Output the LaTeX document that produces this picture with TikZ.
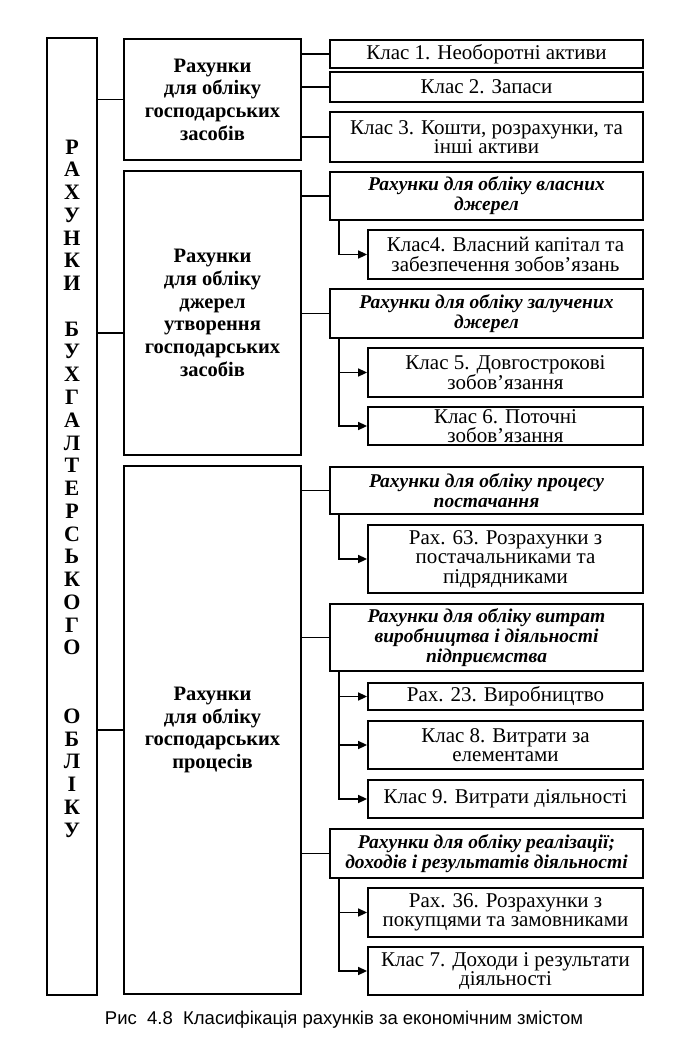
\documentclass[tikz,border=0pt]{standalone}
\usepackage{fontspec}
\setmainfont{Liberation Serif}
\newfontfamily\capfont{Liberation Sans}
\usetikzlibrary{calc,arrows.meta}

\begin{document}
\begin{tikzpicture}[x=1pt,y=-1pt,line width=1.6pt,
	box/.style={draw,line width=1.8pt,inner sep=0pt,align=center},
	groupbox/.style={box,minimum width=177pt,font=\bfseries\fontsize{20.5}{22.7}\selectfont},
	headbox/.style={box,minimum width=313pt,font=\bfseries\itshape\fontsize{19.5}{20}\selectfont},
	classbox/.style={box,minimum width=313pt,font=\fontsize{21}{19.5}\selectfont},
	subbox/.style={box,minimum width=275pt,font=\fontsize{21}{19.5}\selectfont},
	arr/.style={-{Triangle[length=9pt,width=8pt]}}]
			\useasboundingbox (0,0) rectangle (675,1044);
			% left column
			\node[box,minimum width=50pt,minimum height=957pt] (main) at (72,516.5) {};
			\node[font=\bfseries\fontsize{22}{22.77}\selectfont,align=center] (title) at (72,488.5)
				{Р\\А\\Х\\У\\Н\\К\\И\\~\\Б\\У\\Х\\Г\\А\\Л\\Т\\Е\\Р\\С\\Ь\\К\\О\\Г\\О\\~\\~\\О\\Б\\Л\\І\\К\\У};
			% middle column
			\node[groupbox,minimum height=121pt] (assets) at (212.5,99.5) {Рахунки\\для обліку\\господарських\\засобів};
			\node[groupbox,minimum height=284pt] (sources) at (212.5,313) {Рахунки\\для обліку\\джерел\\утворення\\господарських\\засобів};
			\node[groupbox,minimum height=528pt] (processes) at (212.5,730) {Рахунки\\для обліку\\господарських\\процесів};
			\coordinate (j2) at (0,333);
			\draw (main.east |- assets.west) -- (assets.west);
			\draw (main.east |- j2) -- (sources.west |- j2);
			\draw (main.east |- processes.west) -- (processes.west);
			% assets
			\node[classbox,minimum height=28pt] (c1) at (486.5,54) {Клас 1. Необоротні активи};
			\node[classbox,minimum height=30pt] (c2) at (486.5,87) {Клас 2. Запаси};
			\node[classbox,minimum height=50pt] (c3) at (486.5,137) {Клас 3. Кошти, розрахунки, та\\інші активи};
			\foreach \c in {c1,c2,c3}
				\draw (assets.east |- \c.west) -- (\c.west);
			% sources
			\node[headbox,minimum height=48pt] (h1) at (486.5,196) {Рахунки для обліку власних\\джерел};
			\node[subbox,minimum height=49pt] (c4) at (505.5,254.5) {Клас4. Власний капітал та\\забезпечення зобов’язань};
			\node[headbox,minimum height=49pt] (h2) at (486.5,313.5) {Рахунки для обліку залучених\\джерел};
			\node[subbox,minimum height=49pt] (c5) at (505.5,372.5) {Клас 5. Довгострокові\\зобов’язання};
			\node[subbox,minimum height=38pt] (c6) at (505.5,426) {Клас 6. Поточні\\зобов’язання};
			\foreach \h in {h1,h2}
				\draw (sources.east |- \h.west) -- (\h.west);
			\draw[arr] ($(h1.south west)+(10,0)$) |- (c4.west);
			\draw[arr] ($(h2.south west)+(10,0)$) |- (c5.west);
			\draw[arr] ($(h2.south west)+(10,0)$) |- (c6.west);
			% processes
			\node[headbox,minimum height=47pt] (h3) at (486.5,490.5) {Рахунки для обліку процесу\\постачання};
			\node[subbox,minimum height=68pt] (r63) at (505.5,559) {Рах. 63. Розрахунки з\\постачальниками та\\підрядниками};
			\node[headbox,minimum height=67pt] (h4) at (486.5,637.5) {Рахунки для обліку витрат\\виробництва і діяльності\\підприємства};
			\node[subbox,minimum height=27pt] (r23) at (505.5,696.5) {Рах. 23. Виробництво};
			\node[subbox,minimum height=48pt] (c8) at (505.5,745) {Клас 8. Витрати за\\елементами};
			\node[subbox,minimum height=38pt] (c9) at (505.5,799) {Клас 9. Витрати діяльності};
			\node[headbox,minimum height=49pt] (h5) at (486.5,853.5) {Рахунки для обліку реалізації;\\доходів і результатів діяльності};
			\node[subbox,minimum height=49pt] (r36) at (505.5,912.5) {Рах. 36. Розрахунки з\\покупцями та замовниками};
			\node[subbox,minimum height=48pt] (c7) at (505.5,971) {Клас 7. Доходи і результати\\діяльності};
			\foreach \h in {h3,h4,h5}
				\draw (processes.east |- \h.west) -- (\h.west);
			\draw[arr] ($(h3.south west)+(10,0)$) |- (r63.west);
			\foreach \s in {r23,c8,c9}
				\draw[arr] ($(h4.south west)+(10,0)$) |- (\s.west);
			\foreach \s in {r36,c7}
				\draw[arr] ($(h5.south west)+(10,0)$) |- (\s.west);
			% caption
			\node[font=\capfont\fontsize{18.5}{20}\selectfont] (caption) at (344,1020)
				{Рис\ \ 4.8\ \ Класифікація рахунків за економічним змістом};
		\end{tikzpicture}
\end{document}
